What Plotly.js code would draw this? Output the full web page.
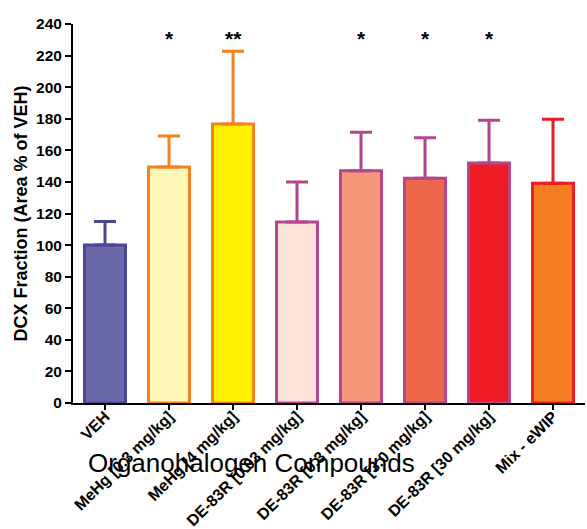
<!DOCTYPE html>
<html>
<head>
<meta charset="utf-8">
<script src="https://cdn.plot.ly/plotly-3.0.1.min.js"></script>
<style>
  html, body { margin: 0; padding: 0; background: #fff; }
  #chart { width: 587px; height: 529px; }
</style>
</head>
<body>
<div id="chart"></div>
<script>
// Treatment groups along the x axis
const categories = [
  'VEH',
  'MeHg [0.3 mg/kg]',
  'MeHg [4 mg/kg]',
  'DE-83R [0.03 mg/kg]',
  'DE-83R [0.3 mg/kg]',
  'DE-83R [3.0 mg/kg]',
  'DE-83R [30 mg/kg]',
  'Mix - eWIP'
];

// Mean DCX fraction (area % of VEH) and upper error (SEM)
const means = [100, 149.4, 176.6, 114.6, 147, 142.4, 151.9, 139.2];
const sem   = [15, 19.6, 46.2, 25.4, 24.5, 25.6, 27.1, 40.5];

// Significance markers above each group
const significance = ['', '*', '**', '', '*', '*', '*', ''];

// Bar fill and outline colours
const fills    = ['#6b69a8', '#fff8b6', '#fff200', '#fde3d7', '#f5987a', '#ed684b', '#ed1c24', '#f47e21'];
const outlines = ['#4b4790', '#f5821f', '#f5821f', '#b4458f', '#b4458f', '#b4458f', '#b4458f', '#ed1c24'];

const FONT = 'Arial, "Liberation Sans", sans-serif';

const traces = categories.map((cat, i) => ({
  type: 'bar',
  x: [cat],
  y: [means[i]],
  width: 0.64,
  marker: { color: fills[i], line: { color: outlines[i], width: 3 } },
  error_y: {
    type: 'data',
    symmetric: false,
    array: [sem[i]],
    arrayminus: [0],
    color: outlines[i],
    thickness: 3,
    width: 11
  },
  hoverinfo: 'x+y',
  showlegend: false
}));

const starNotes = categories
  .map((cat, i) => ({ cat, mark: significance[i] }))
  .filter(d => d.mark)
  .map(d => ({
    x: d.cat, y: 231, xref: 'x', yref: 'y',
    text: d.mark, showarrow: false,
    font: { family: FONT, size: 21, color: '#000', weight: 'bold' },
    yanchor: 'middle'
  }));

const layout = {
  width: 587,
  height: 529,
  margin: { l: 73, r: 2, t: 24, b: 126 },
  paper_bgcolor: '#fff',
  plot_bgcolor: '#fff',
  barmode: 'overlay',
  font: { family: FONT, color: '#000' },
  xaxis: {
    type: 'category',
    categoryorder: 'array',
    categoryarray: categories,
    range: [-0.5, 7.5],
    showline: true, linecolor: '#000', linewidth: 2,
    ticks: 'outside', ticklen: 5, tickwidth: 2, tickcolor: '#000',
    tickangle: -45,
    ticklabelstandoff: -9,
    tickfont: { family: FONT, size: 16, color: '#000', weight: 'bold' },
    showgrid: false, zeroline: false, fixedrange: true
  },
  yaxis: {
    range: [0, 240],
    dtick: 20,
    showline: true, linecolor: '#000', linewidth: 2,
    ticks: 'outside', ticklen: 6, tickwidth: 2, tickcolor: '#000',
    tickfont: { family: FONT, size: 15.5, color: '#000', weight: 'bold' },
    showgrid: false, zeroline: false, fixedrange: true,
    title: {
      text: 'DCX Fraction (Area % of VEH)',
      font: { family: FONT, size: 18, color: '#000', weight: 'bold' },
      standoff: 4
    }
  },
  annotations: starNotes.concat([{
    text: 'Organohalogen Compounds',
    xref: 'paper', yref: 'paper',
    x: 0.348, y: -0.158,
    xanchor: 'center', yanchor: 'middle',
    showarrow: false,
    font: { family: FONT, size: 26, color: '#000' }
  }])
};

Plotly.newPlot('chart', traces, layout, { displayModeBar: false, staticPlot: true });
</script>
</body>
</html>
